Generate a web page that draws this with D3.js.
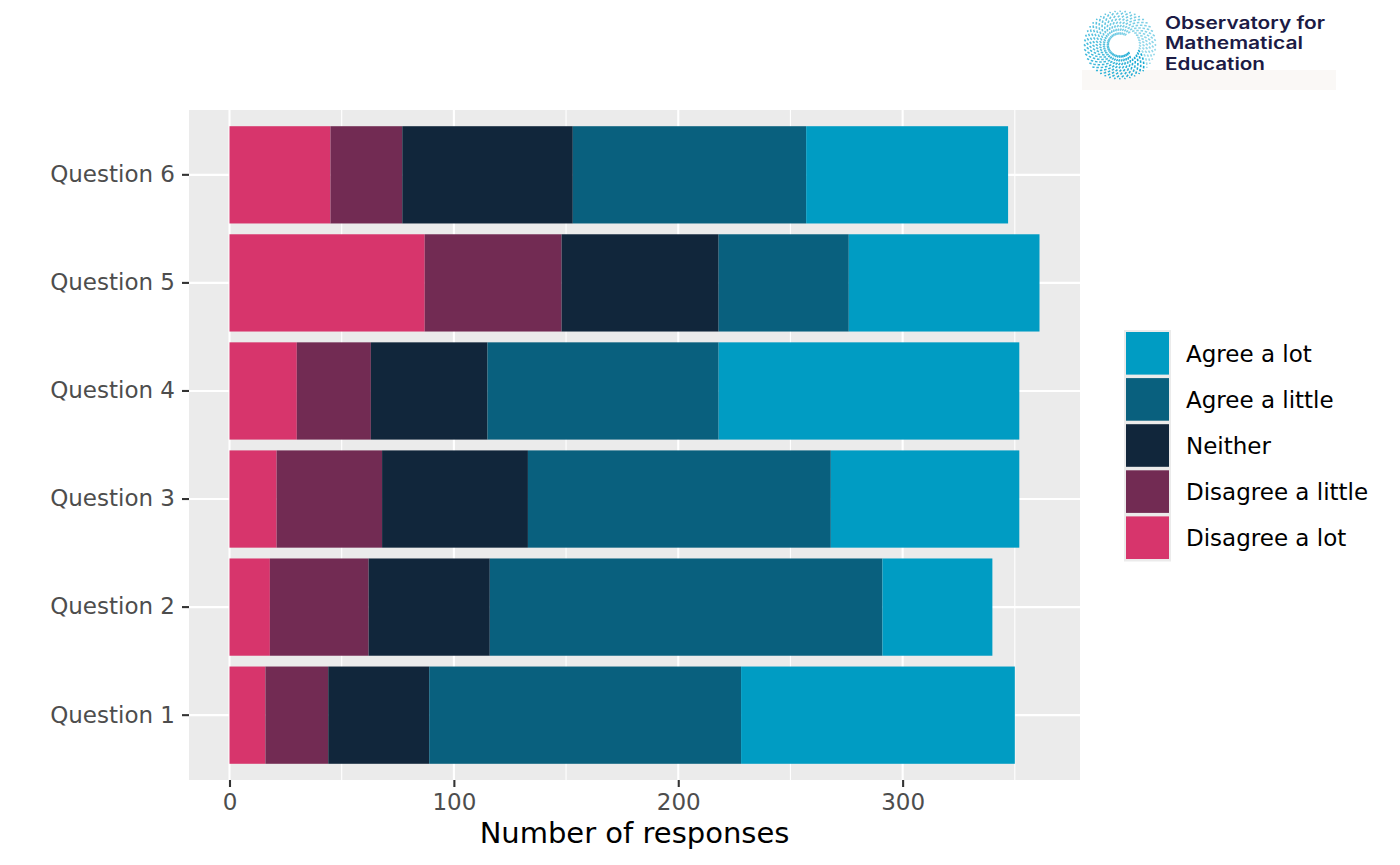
<!DOCTYPE html>
<html>
<head>
<meta charset="utf-8">
<script src="https://cdn.jsdelivr.net/npm/d3@7"></script>
<style>
  html, body { margin: 0; padding: 0; background: #ffffff; }
  svg { display: block; }
  text { font-family: "DejaVu Sans", sans-serif; }
</style>
</head>
<body>
<svg id="chart" width="1400" height="865"></svg>
<script>
// ---- Data ----
const questions = ["Question 1", "Question 2", "Question 3", "Question 4", "Question 5", "Question 6"];
const responseLevels = ["Disagree a lot", "Disagree a little", "Neither", "Agree a little", "Agree a lot"];
const disagreeLot    = [16, 18, 21, 30, 87, 45];
const disagreeLittle = [28, 44, 47, 33, 61, 32];
const neither        = [45, 54, 65, 52, 70, 76];
const agreeLittle    = [139, 175, 135, 103, 58, 104];
const agreeLot       = [122, 49, 84, 134, 85, 90];
const xTicks = [0, 100, 200, 300];
const xMinorTicks = [50, 150, 250, 350];
const legendOrder = ["Agree a lot", "Agree a little", "Neither", "Disagree a little", "Disagree a lot"];
const logoLines = ["Observatory for", "Mathematical", "Education"];
const colours = {
  "Agree a lot": "#009CC3",
  "Agree a little": "#09607E",
  "Neither": "#11263B",
  "Disagree a little": "#722B53",
  "Disagree a lot": "#D7356C"
};

const rows = questions.map((q, i) => ({
  question: q,
  "Disagree a lot": disagreeLot[i],
  "Disagree a little": disagreeLittle[i],
  "Neither": neither[i],
  "Agree a little": agreeLittle[i],
  "Agree a lot": agreeLot[i]
}));

const svg = d3.select("#chart");
const panel = { left: 189, right: 1080, top: 110, bottom: 780 };

const stacked = d3.stack().keys(responseLevels)(rows);
const maxTotal = d3.max(stacked[stacked.length - 1], d => d[1]);
const pad = maxTotal * 0.05;

const x = d3.scaleLinear().domain([-pad, maxTotal + pad]).range([panel.left, panel.right]);
const y = d3.scaleBand()
  .domain(questions.slice().reverse())
  .range([panel.top, panel.bottom])
  .paddingInner(0.1)
  .paddingOuter(0.15);

// Panel background
svg.append("rect")
  .attr("x", panel.left).attr("y", panel.top)
  .attr("width", panel.right - panel.left).attr("height", panel.bottom - panel.top)
  .attr("fill", "#EBEBEB");

// Grid lines
const grid = svg.append("g");
grid.selectAll(".minor").data(xMinorTicks).join("line")
  .attr("x1", d => x(d)).attr("x2", d => x(d))
  .attr("y1", panel.top).attr("y2", panel.bottom)
  .attr("stroke", "#ffffff").attr("stroke-width", 1.1);
grid.selectAll(".majorx").data(xTicks).join("line")
  .attr("x1", d => x(d)).attr("x2", d => x(d))
  .attr("y1", panel.top).attr("y2", panel.bottom)
  .attr("stroke", "#ffffff").attr("stroke-width", 2.1);
grid.selectAll(".majory").data(questions).join("line")
  .attr("x1", panel.left).attr("x2", panel.right)
  .attr("y1", d => y(d) + y.bandwidth() / 2).attr("y2", d => y(d) + y.bandwidth() / 2)
  .attr("stroke", "#ffffff").attr("stroke-width", 2.1);

// Bars
svg.append("g").selectAll("g").data(stacked).join("g")
  .attr("fill", s => colours[s.key])
  .selectAll("rect").data(s => s).join("rect")
  .attr("x", d => x(d[0]))
  .attr("width", d => x(d[1]) - x(d[0]))
  .attr("y", d => y(d.data.question))
  .attr("height", y.bandwidth());

// Axes
const xAxis = svg.append("g")
  .attr("transform", `translate(0,${panel.bottom})`)
  .call(d3.axisBottom(x).tickValues(xTicks).tickFormat(d3.format("d")).tickSize(7).tickPadding(7));
xAxis.select(".domain").remove();
xAxis.selectAll(".tick line").attr("stroke", "#333333").attr("stroke-width", 2.1);
xAxis.selectAll(".tick text").attr("fill", "#4D4D4D").style("font-size", "23px").style("font-family", "DejaVu Sans");

const yAxis = svg.append("g")
  .attr("transform", `translate(${panel.left},0)`)
  .call(d3.axisLeft(y).tickSize(7).tickPadding(7));
yAxis.select(".domain").remove();
yAxis.selectAll(".tick line").attr("stroke", "#333333").attr("stroke-width", 2.1);
yAxis.selectAll(".tick text").attr("fill", "#4D4D4D").style("font-size", "23px").style("font-family", "DejaVu Sans");

// Axis title
svg.append("text")
  .attr("x", (panel.left + panel.right) / 2).attr("y", 843)
  .attr("text-anchor", "middle")
  .style("font-size", "29px").attr("fill", "#000000")
  .text("Number of responses");

// Legend
const legend = svg.append("g").attr("transform", "translate(1124,330)");
const keyH = 46.1, keyW = 47;
legend.append("rect").attr("x", 0).attr("y", 0)
  .attr("width", keyW).attr("height", keyH * legendOrder.length + 1)
  .attr("fill", "#EBEBEB");
const items = legend.selectAll(".item").data(legendOrder).join("g")
  .attr("transform", (d, i) => `translate(0,${i * keyH})`);
items.append("rect")
  .attr("x", 2).attr("y", 2)
  .attr("width", keyW - 4).attr("height", keyH - 3.5)
  .attr("fill", d => colours[d]);
items.append("text")
  .attr("x", 62).attr("y", keyH / 2 + 1)
  .attr("dominant-baseline", "central")
  .style("font-size", "23px").attr("fill", "#000000")
  .text(d => d);

// Logo (decorative)
const logo = svg.append("g");
logo.append("rect").attr("x", 1082).attr("y", 70).attr("width", 254).attr("height", 20).attr("fill", "#FAF8F6");
const cx = 1120, cy = 45;
const nRays = 44;
for (let i = 0; i < nRays; i++) {
  const a0 = (i / nRays) * 2 * Math.PI;
  const pts = [];
  for (let r = 11; r <= 36; r += 1) {
    const a = a0 + (r - 11) * 0.035;
    pts.push([cx + r * Math.cos(a), cy + r * Math.sin(a) * 0.95]);
  }
  const deg = (a0 * 180 / Math.PI);
  const inner = (deg > 300 || deg < 40) ? 8 : 0;
  logo.append("path")
    .attr("d", d3.line()(pts.slice(inner)))
    .attr("fill", "none")
    .attr("stroke", d3.interpolateRgb("#16A9D2", "#9EDCEC")(i / nRays))
    .attr("stroke-width", 1.6)
    .attr("stroke-dasharray", "2.5,1.8");
}
const logoWidths = [160, 138, 100];
logoLines.forEach((t, i) => {
  logo.append("text")
    .attr("x", 1165).attr("y", 28.5 + i * 20.75)
    .attr("textLength", logoWidths[i])
    .attr("lengthAdjust", "spacingAndGlyphs")
    .style("font-family", "Inter, 'Open Sans', sans-serif")
    .style("font-weight", "600")
    .style("font-size", "17px")
    .attr("fill", "#1C1B45")
    .text(t);
});
</script>
</body>
</html>
